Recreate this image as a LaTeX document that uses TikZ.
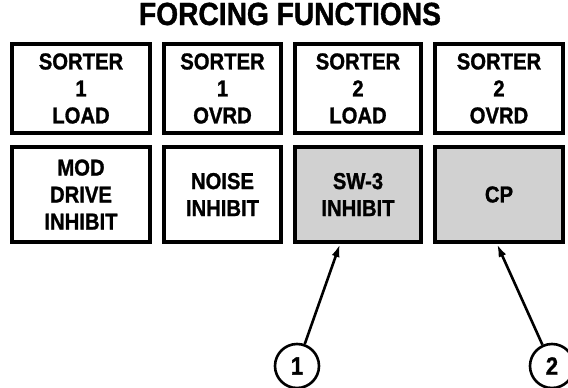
\documentclass[tikz,border=0pt]{standalone}
\usepackage{fontspec}
\setmainfont[FakeStretch=0.88, BoldFeatures={FakeBold=1.2}]{Liberation Sans}
\usetikzlibrary{arrows.meta}
\tikzset{
  knopf/.style={draw, line width=4pt, align=center, inner sep=0pt,
    font=\fontsize{23}{27}\selectfont\bfseries},
  grau/.style={fill=black!18},
  marke/.style={draw, circle, line width=2.6pt, minimum size=44pt, inner sep=0pt,
    font=\fontsize{25}{26}\selectfont\bfseries},
  zeiger/.style={-{Latex[length=13pt,width=8pt]}, line width=2.6pt}
}
\begin{document}
\begin{tikzpicture}[x=1pt, y=-1pt]
    \useasboundingbox (0,0) rectangle (568,388);
    % Titel:
    \node[anchor=base, font=\fontsize{32}{34}\selectfont\bfseries] (titel) at (290,25) {FORCING FUNCTIONS};
    % obere Reihe:
    \node[knopf, minimum width=138pt, minimum height=89pt] (sa) at (81,88.5) {SORTER\\1\\LOAD}; % erster Knopf
    \node[knopf, minimum width=117pt, minimum height=89pt] (sb) at (222.5,88.5) {SORTER\\1\\OVRD}; % zweiter Knopf
    \node[knopf, minimum width=126pt, minimum height=89pt] (sc) at (358,88.5) {SORTER\\2\\LOAD}; % dritter Knopf
    \node[knopf, minimum width=128pt, minimum height=89pt] (sd) at (499,88.5) {SORTER\\2\\OVRD}; % vierter Knopf
    % untere Reihe:
    \node[knopf, minimum width=138pt, minimum height=95pt] (mod) at (81,194.5) {MOD\\DRIVE\\INHIBIT};
    \node[knopf, minimum width=117pt, minimum height=95pt] (noise) at (222.5,194.5) {NOISE\\INHIBIT};
    \node[knopf, grau, minimum width=126pt, minimum height=95pt] (sw) at (358,194.5) {SW-3\\INHIBIT};
    \node[knopf, grau, minimum width=128pt, minimum height=95pt] (cp) at (499,194.5) {CP};
    % Markierungen:
    \node[marke] (m1) at (297,366) {1};
    \node[marke] (m2) at (552,366) {2};
\draw[zeiger] (m1) -- ([xshift=-18pt]sw.south);
\draw[zeiger] (m2) -- ([xshift=-2pt]cp.south);
\end{tikzpicture}
\end{document}
